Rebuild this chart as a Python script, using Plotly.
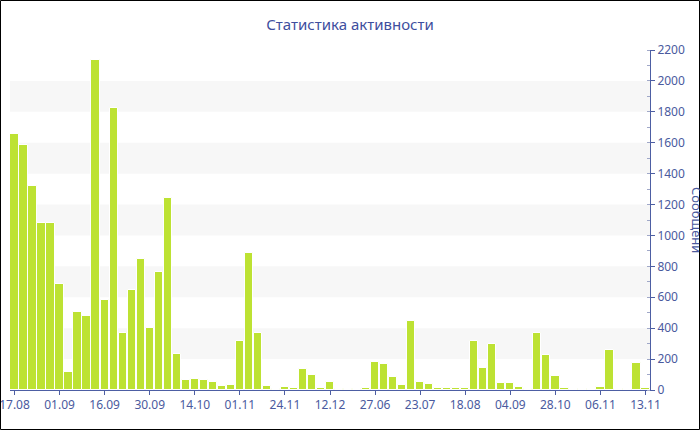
import plotly.graph_objects as go

title_text = "Статистика активности"
y_title = "Сообщени"

messages = [
    1655, 1583, 1322, 1080, 1080, 684, 118, 503, 481, 2133,
    580, 1827, 367, 647, 845, 403, 763, 1240, 233, 67,
    71, 67, 50, 24, 30, 319, 888, 367, 24, 8,
    22, 11, 134, 95, 13, 50, 6, 6, 6, 13,
    179, 166, 86, 30, 448, 54, 37, 13, 13, 13,
    11, 319, 145, 298, 45, 43, 17, 9, 367, 229,
    91, 11, 6, 6, 6, 22, 261, 6, 6, 172,
    11,
]

tick_labels = ["17.08", "01.09", "16.09", "30.09", "14.10", "01.11", "24.11",
               "12.12", "27.06", "23.07", "18.08", "04.09", "28.10", "06.11", "13.11"]
tick_step = 5

band_edges = [(200, 400), (600, 800), (1000, 1200), (1400, 1600), (1800, 2000)]

W, H = 700, 430
L, R, T, B = 10, 50, 50, 40
PW, PH = W - L - R, H - T - B

axis_col = "#4d5ea3"
text_col = "#4a5a9e"
font_family = "Noto Sans, DejaVu Sans, sans-serif"

x = list(range(len(messages)))

fig = go.Figure()
fig.add_trace(go.Bar(
    x=x, y=messages,
    marker=dict(color="#bde233", line=dict(color="#ffffff", width=1)),
    width=0.92,
    hoverinfo="y",
))

shapes = []
for lo, hi in band_edges:
    shapes.append(dict(type="rect", xref="paper", yref="y", x0=0, x1=1, y0=lo, y1=hi,
                       fillcolor="#f7f7f7", line=dict(width=0), layer="below"))
# outer frame
shapes.append(dict(type="rect", xref="paper", yref="paper",
                   x0=(0.5 - L) / PW, x1=(W - 0.5 - L) / PW,
                   y0=-(B - 0.5) / PH, y1=1 + (T - 0.5) / PH,
                   line=dict(color="#000000", width=1), fillcolor="rgba(0,0,0,0)", layer="above"))

fig.update_layout(
    width=W, height=H,
    margin=dict(l=L, r=R, t=T, b=B, pad=0, autoexpand=False),
    paper_bgcolor="#ffffff", plot_bgcolor="#ffffff",
    showlegend=False,
    bargap=0,
    font=dict(family=font_family, size=12, color=text_col),
    title=dict(text=title_text, x=0.5, xanchor="center", xref="container",
               y=(H - 25) / H, yanchor="middle", yref="container",
               font=dict(family=font_family, size=15, color="#3e4e9e")),
    shapes=shapes,
    xaxis=dict(
        range=[-0.5, len(messages) - 0.5],
        tickmode="array",
        tickvals=list(range(0, len(messages), tick_step)),
        ticktext=tick_labels,
        ticklabeloverflow="allow",
        automargin=False,
        showgrid=False, zeroline=False,
        showline=True, linecolor=axis_col, linewidth=1,
        ticks="outside", ticklen=4, tickcolor=axis_col,
        tickfont=dict(family=font_family, size=12, color=text_col),
        fixedrange=True,
    ),
    yaxis=dict(
        side="right",
        range=[0, 2200],
        tickmode="linear", tick0=0, dtick=200,
        automargin=False,
        showgrid=False, zeroline=False,
        showline=True, linecolor=axis_col, linewidth=1,
        ticks="outside", ticklen=4, tickcolor=axis_col,
        minor=dict(dtick=100, ticks="inside", ticklen=3, tickcolor="#a0a8c8", showgrid=False),
        tickfont=dict(family=font_family, size=12, color=text_col),
        fixedrange=True,
    ),
    annotations=[dict(
        text=y_title, textangle=90, showarrow=False,
        xref="paper", yref="paper",
        x=(697 - L) / PW, y=0.5, xanchor="center", yanchor="middle",
        font=dict(family=font_family, size=13, color=text_col),
    )],
)

fig.write_html("out.html", config={"displayModeBar": False},
               post_script="document.body.style.margin='0';document.body.style.overflow='hidden';")
